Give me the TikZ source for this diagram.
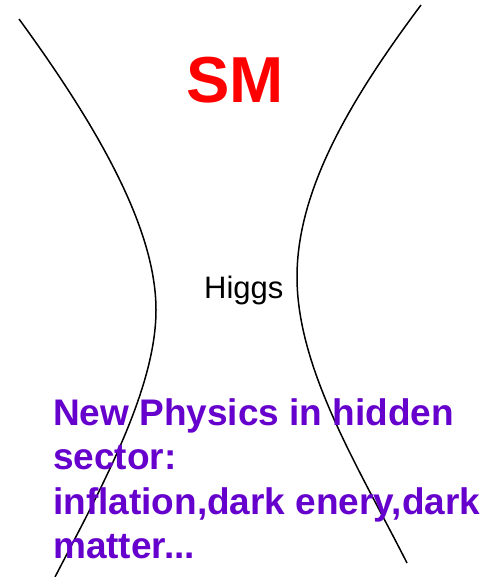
\documentclass[tikz,border=0pt]{standalone}
\usepackage{fontspec}
\setmainfont{Liberation Sans}
\usepackage{xcolor}
\usepackage{tikz}
\usetikzlibrary{positioning}
\definecolor{hiddenpurple}{HTML}{6600CC}
\tikzstyle{label} = [inner sep=0pt, font=\fontsize{31}{37}\selectfont]
\tikzstyle{smlabel} = [inner sep=0pt, text=red,
font=\fontsize{65}{78}\selectfont\bfseries]
\tikzstyle{hidden} = [inner sep=0pt, align=left, text=hiddenpurple,
font=\fontsize{37}{44.5}\selectfont\bfseries]
\tikzstyle{wall} = [line width=1.5pt, black]

\begin{document}
\begin{tikzpicture}[x=1pt, y=-1pt]
            \useasboundingbox (0,0) rectangle (485,577);

            % the two walls
            \draw [wall] (19,19) .. controls (100,130) and (156,230) .. (156,310)
                .. controls (156,390) and (100,490) .. (55,577);
            \draw [wall] (421,5) .. controls (350,100) and (297,190) .. (297,277)
                .. controls (297,370) and (360,470) .. (407,563);

            \node (sm) [smlabel, anchor=base] at (235,103) {SM};
            \node (higgs) [label, anchor=base west] at (204,298) {Higgs};
            \node (np) [hidden, anchor=north west] at (53,398)
                {New Physics in hidden\\sector:\\inflation,dark enery,dark\\matter...};
        \end{tikzpicture}
\end{document}
